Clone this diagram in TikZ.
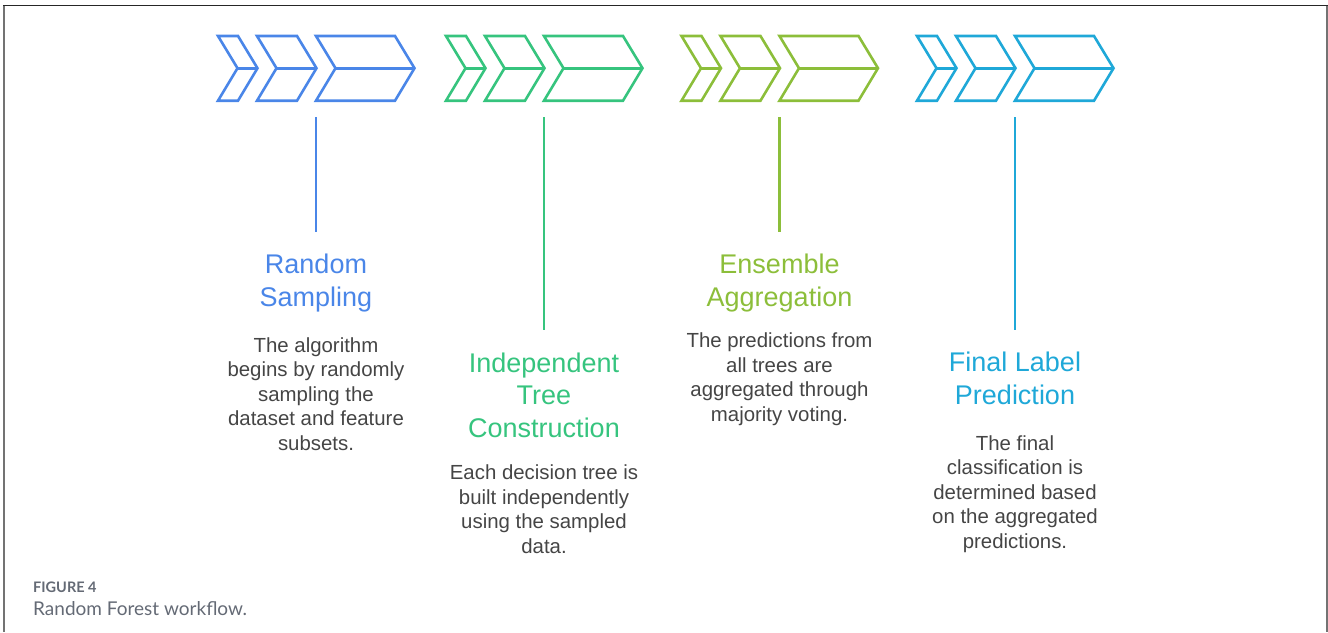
\documentclass[tikz,border=0pt]{standalone}
\usepackage{fontspec}
\setmainfont{Liberation Sans}
\newfontfamily\capfont{Lato}
\definecolor{rfblue}{HTML}{4A86E8}
\definecolor{rfgreen}{HTML}{36C47E}
\definecolor{rfolive}{HTML}{8CBE3A}
\definecolor{rfcyan}{HTML}{1FA8D8}
\definecolor{bodygray}{HTML}{454545}
\definecolor{capgray}{HTML}{646A75}
\begin{document}
\begin{tikzpicture}[x=1pt,y=-1pt,
  chev/.style={line width=2.6pt,line join=miter},
  stem/.style={line width=2.6pt},
  % anchor=base sits on the last line of a multi-line node
  title/.style={anchor=base,align=center,inner sep=0pt,
    font=\fontsize{27}{32.5}\selectfont},
  body/.style={anchor=base,align=center,inner sep=0pt,text=bodygray,
    font=\fontsize{20.4}{24.5}\selectfont},
  frameline/.style={line width=1.6pt}]
\useasboundingbox (0,0) rectangle (1328,632);

% page frame
\draw[frameline,draw=black!55] (3.7,5.5) -- (3.7,632);
\draw[frameline,draw=black!55] (1327.2,5.5) -- (1327.2,632);
\draw[frameline,draw=black!85] (3,5.5) -- (1328,5.5);

% three nested chevrons per stage
\foreach \ox/\col in {218/rfblue,446/rfgreen,681.5/rfolive,917/rfcyan}{
  \begin{scope}[shift={(\ox,0)},draw=\col]
    \foreach \l/\r in {0/20,39/79,98/177}{
      \draw[chev] (\l,36) -- (\r,36) -- (\r+19.5,68.2) -- (\r,100.7)
        -- (\l,100.7) -- (\l+19.5,68.2) -- cycle;
      \draw[chev] (\l+19.5,68.2) -- (\r+19.5,68.2);
    }
  \end{scope}
}

% stems from the chevrons down to the stage titles
\coordinate (s1) at (316,117);   \coordinate (e1) at (316,232);
\coordinate (s2) at (544,117);   \coordinate (e2) at (544,330);
\coordinate (s3) at (779.5,117); \coordinate (e3) at (779.5,232);
\coordinate (s4) at (1015,117);  \coordinate (e4) at (1015,330);
\draw[stem,rfblue]  (s1) -- (e1);
\draw[stem,rfgreen] (s2) -- (e2);
\draw[stem,rfolive] (s3) -- (e3);
\draw[stem,rfcyan]  (s4) -- (e4);

% stage titles
\node[title,text=rfblue]  (t1) at (316,306)   {Random\\Sampling};
\node[title,text=rfgreen] (t2) at (544,437)   {Independent\\Tree\\Construction};
\node[title,text=rfolive] (t3) at (779.5,306) {Ensemble\\Aggregation};
\node[title,text=rfcyan]  (t4) at (1015,404)  {Final Label\\Prediction};

% stage descriptions
\node[body] (b1) at (316,450) {The algorithm\\begins by randomly\\sampling the\\dataset and feature\\subsets.};
\node[body] (b2) at (544,553) {Each decision tree is\\built independently\\using the sampled\\data.};
\node[body] (b3) at (779.5,421) {The predictions from\\all trees are\\aggregated through\\majority voting.};
\node[body] (b4) at (1015,548) {The final\\classification is\\determined based\\on the aggregated\\predictions.};

% caption
\node[anchor=base west,inner sep=0pt,text=capgray,
  font=\capfont\bfseries\fontsize{14.5}{17}\selectfont] (cap1) at (33,592) {FIGURE 4};
\node[anchor=base west,inner sep=0pt,text=capgray,
  font=\capfont\fontsize{19}{22}\selectfont] (cap2) at (33,615) {Random Forest workflow.};
\end{tikzpicture}
\end{document}
